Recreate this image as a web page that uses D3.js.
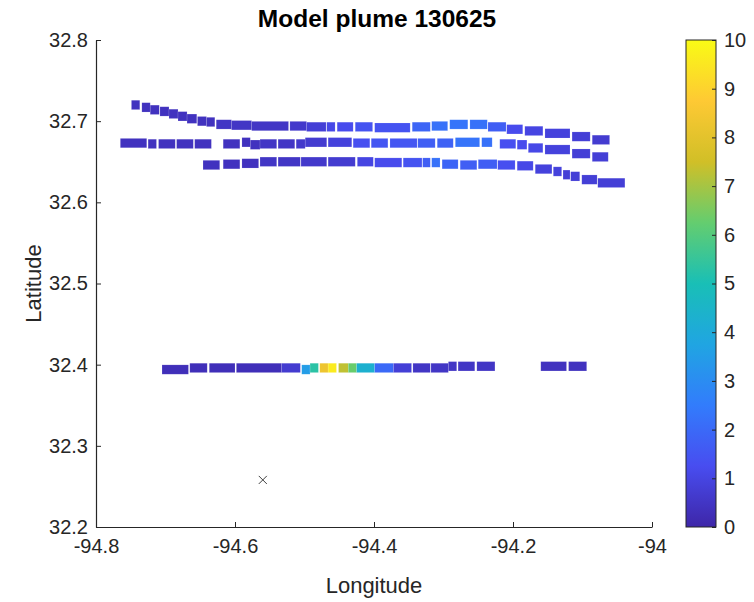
<!DOCTYPE html>
<html>
<head>
<meta charset="utf-8">
<script src="https://cdn.jsdelivr.net/npm/d3@7"></script>
<style>
    body { margin: 0; background: #fff; }
    svg { display: block; font-family: "Liberation Sans", Arial, sans-serif; }
</style>
</head>
<body>
<svg id="chart" width="754" height="602"></svg>
<script>
// plume cells: [lon start, lon end, lat centre, value]
const trackNorth = [
    [-94.749, -94.737, 32.720, 0.4], [-94.734, -94.722, 32.717, 0.4],
    [-94.722, -94.709, 32.714, 0.4], [-94.708, -94.695, 32.712, 0.4],
    [-94.695, -94.682, 32.709, 0.4], [-94.682, -94.669, 32.706, 0.4],
    [-94.669, -94.655, 32.703, 0.4], [-94.654, -94.641, 32.700, 0.4],
    [-94.641, -94.629, 32.699, 0.4], [-94.627, -94.605, 32.696, 0.5],
    [-94.605, -94.576, 32.695, 0.5], [-94.576, -94.523, 32.694, 0.5],
    [-94.521, -94.497, 32.694, 0.6], [-94.497, -94.469, 32.693, 0.8],
    [-94.468, -94.456, 32.693, 1.1], [-94.453, -94.430, 32.693, 1.2],
    [-94.427, -94.402, 32.693, 1.4], [-94.399, -94.348, 32.692, 1.4],
    [-94.345, -94.319, 32.693, 1.9], [-94.317, -94.294, 32.694, 2.2],
    [-94.291, -94.265, 32.696, 2.3], [-94.262, -94.237, 32.696, 2.2],
    [-94.236, -94.210, 32.693, 1.7], [-94.209, -94.186, 32.690, 1.2],
    [-94.183, -94.157, 32.688, 1.0], [-94.154, -94.118, 32.685, 0.9],
    [-94.115, -94.089, 32.681, 0.8], [-94.086, -94.061, 32.677, 0.7]
];

const trackMiddle = [
    [-94.765, -94.727, 32.673, 0.4], [-94.725, -94.713, 32.672, 0.4],
    [-94.710, -94.686, 32.672, 0.4], [-94.684, -94.660, 32.672, 0.4],
    [-94.658, -94.634, 32.672, 0.4], [-94.617, -94.593, 32.672, 0.4],
    [-94.590, -94.578, 32.674, 0.4], [-94.578, -94.564, 32.671, 0.4],
    [-94.564, -94.540, 32.672, 0.5], [-94.538, -94.514, 32.672, 0.5],
    [-94.512, -94.499, 32.672, 0.6], [-94.499, -94.468, 32.674, 0.7],
    [-94.466, -94.432, 32.674, 0.9], [-94.430, -94.406, 32.673, 1.3],
    [-94.404, -94.380, 32.673, 1.5], [-94.377, -94.338, 32.673, 1.5],
    [-94.337, -94.312, 32.673, 1.7], [-94.309, -94.286, 32.673, 1.8],
    [-94.283, -94.248, 32.674, 2.3], [-94.245, -94.230, 32.674, 2.2],
    [-94.219, -94.196, 32.672, 1.3], [-94.194, -94.180, 32.671, 1.2],
    [-94.178, -94.157, 32.667, 1.1], [-94.154, -94.118, 32.665, 0.9],
    [-94.115, -94.089, 32.660, 0.8], [-94.086, -94.063, 32.656, 0.8]
];

const trackSouth = [
    [-94.646, -94.622, 32.646, 0.4], [-94.617, -94.593, 32.647, 0.4],
    [-94.590, -94.566, 32.648, 0.4], [-94.564, -94.540, 32.650, 0.5],
    [-94.538, -94.506, 32.650, 0.5], [-94.505, -94.468, 32.650, 0.6],
    [-94.466, -94.427, 32.650, 0.7], [-94.424, -94.401, 32.650, 1.0],
    [-94.399, -94.360, 32.649, 1.2], [-94.358, -94.331, 32.649, 1.4],
    [-94.330, -94.319, 32.649, 1.7], [-94.317, -94.305, 32.649, 2.2],
    [-94.302, -94.279, 32.647, 1.9], [-94.276, -94.252, 32.646, 1.7],
    [-94.250, -94.223, 32.647, 1.7], [-94.222, -94.197, 32.646, 1.3],
    [-94.194, -94.171, 32.645, 1.1], [-94.168, -94.144, 32.641, 0.9],
    [-94.142, -94.130, 32.638, 0.9], [-94.128, -94.118, 32.634, 0.8],
    [-94.117, -94.104, 32.632, 0.8], [-94.101, -94.079, 32.628, 0.8],
    [-94.078, -94.039, 32.624, 0.8]
];

const trackLow = [
    [-94.705, -94.667, 32.394, 0.3], [-94.665, -94.640, 32.396, 0.3],
    [-94.637, -94.600, 32.396, 0.3], [-94.598, -94.533, 32.396, 0.3],
    [-94.533, -94.506, 32.396, 0.7], [-94.504, -94.492, 32.394, 3.5],
    [-94.492, -94.480, 32.396, 5.3], [-94.478, -94.466, 32.396, 8.3],
    [-94.466, -94.454, 32.396, 9.6], [-94.451, -94.437, 32.396, 7.3],
    [-94.437, -94.425, 32.396, 6.3], [-94.425, -94.399, 32.396, 4.3],
    [-94.399, -94.372, 32.396, 2.0], [-94.372, -94.346, 32.396, 0.8],
    [-94.344, -94.319, 32.396, 0.5], [-94.318, -94.293, 32.396, 0.5],
    [-94.293, -94.281, 32.398, 0.5], [-94.279, -94.255, 32.398, 0.5],
    [-94.252, -94.226, 32.398, 0.5], [-94.160, -94.123, 32.398, 0.4],
    [-94.120, -94.094, 32.398, 0.4]
];

// source location
const source = [-94.56, 32.258];

const lonTicks = [-94.8, -94.6, -94.4, -94.2, -94];
const latTicks = [32.2, 32.3, 32.4, 32.5, 32.6, 32.7, 32.8];
const colorTicks = [0, 1, 2, 3, 4, 5, 6, 7, 8, 9, 10];

const chart = (function () {

    let svg = d3.select('#chart'),
        left = 96, right = 652, top = 40, bottom = 527,
        cbLeft = 686, cbWidth = 30,
        cellHeight = 0.0115,
        axisColor = '#262626',
        tickFont = 20,
        labelFont = 22,
        // parula, sampled from matlab's 64 entry map
        parula = ['#3e26a8', '#484df0', '#327cfc', '#20a5e2', '#19bfb6', '#64cd6f', '#d1bf27', '#fec934', '#f9fb15'];

    let x = d3.scaleLinear().domain([-94.8, -94]).range([left, right]);
    let y = d3.scaleLinear().domain([32.2, 32.8]).range([bottom, top]);
    let color = d3.scaleLinear()
        .domain(d3.range(parula.length).map(i => i * 10 / (parula.length - 1)))
        .range(parula)
        .clamp(true);

    return { init };

    function init() {
        drawCells();
        drawSource();
        drawAxes();
        drawColorbar();
        drawTitles();
    }

    function drawCells() {
        let cells = [].concat(trackNorth, trackMiddle, trackSouth, trackLow);

        svg.append('g')
            .selectAll('rect')
            .data(cells)
            .enter().append('rect')
            .attr('x', d => x(d[0]))
            .attr('width', d => x(d[1]) - x(d[0]))
            .attr('y', d => y(d[2] + cellHeight / 2))
            .attr('height', d => y(d[2] - cellHeight / 2) - y(d[2] + cellHeight / 2))
            .attr('fill', d => color(d[3]))
            .attr('stroke', '#ffffff')
            .attr('stroke-opacity', 0.2)
            .attr('stroke-width', 0.6);
    }

    function drawSource() {
        svg.append('path')
            .attr('d', d3.symbol().type(d3.symbolX).size(44))
            .attr('transform', 'translate(' + x(source[0]) + ',' + y(source[1]) + ')')
            .attr('fill', 'none')
            .attr('stroke', '#404040')
            .attr('stroke-width', 1);
    }

    function drawAxes() {
        let fmt = d => String(+d.toFixed(1));

        //ticks point inward like matlab
        let gx = svg.append('g')
            .attr('transform', 'translate(0,' + bottom + ')')
            .call(d3.axisBottom(x).tickValues(lonTicks).tickFormat(fmt).tickSizeInner(-5).tickSizeOuter(0).tickPadding(12));

        let gy = svg.append('g')
            .attr('transform', 'translate(' + left + ',0)')
            .call(d3.axisLeft(y).tickValues(latTicks).tickFormat(fmt).tickSizeInner(-5).tickSizeOuter(0).tickPadding(8));

        for (let g of [gx, gy]) {
            g.select('.domain').attr('stroke', axisColor).attr('stroke-width', 1.2);
            g.selectAll('.tick line').attr('stroke', axisColor);
            g.selectAll('.tick text')
                .attr('fill', axisColor)
                .style('font-size', tickFont + 'px')
                .style('font-family', '"Liberation Sans", Arial, sans-serif');
        }
    }

    function drawColorbar() {
        let cb = d3.scaleLinear().domain([0, 10]).range([bottom, top]);

        let grad = svg.append('defs').append('linearGradient')
            .attr('id', 'parula')
            .attr('x1', 0).attr('y1', 1).attr('x2', 0).attr('y2', 0);

        grad.selectAll('stop')
            .data(parula)
            .enter().append('stop')
            .attr('offset', (d, i) => i / (parula.length - 1))
            .attr('stop-color', d => d);

        svg.append('rect')
            .attr('x', cbLeft)
            .attr('y', top)
            .attr('width', cbWidth)
            .attr('height', bottom - top)
            .attr('fill', 'url(#parula)')
            .attr('stroke', axisColor)
            .attr('stroke-width', 1);

        let g = svg.append('g')
            .attr('transform', 'translate(' + (cbLeft + cbWidth) + ',0)')
            .call(d3.axisRight(cb).tickValues(colorTicks).tickSizeInner(-4).tickSizeOuter(0).tickPadding(8));

        g.select('.domain').remove();
        g.selectAll('.tick line').attr('stroke', axisColor);
        g.selectAll('.tick text')
            .attr('fill', axisColor)
            .style('font-size', tickFont + 'px')
            .style('font-family', '"Liberation Sans", Arial, sans-serif');
    }

    function drawTitles() {
        svg.append('text')
            .attr('x', (left + right) / 2 + 3)
            .attr('y', 27)
            .attr('text-anchor', 'middle')
            .style('font-size', '24.5px')
            .style('font-weight', 'bold')
            .attr('fill', '#000')
            .text('Model plume 130625');

        svg.append('text')
            .attr('x', (left + right) / 2)
            .attr('y', 593)
            .attr('text-anchor', 'middle')
            .style('font-size', labelFont + 'px')
            .attr('fill', axisColor)
            .text('Longitude');

        svg.append('text')
            .attr('transform', 'translate(41,' + (top + bottom) / 2 + ') rotate(-90)')
            .attr('text-anchor', 'middle')
            .style('font-size', labelFont + 'px')
            .attr('fill', axisColor)
            .text('Latitude');
    }

}());

chart.init();
</script>
</body>
</html>
